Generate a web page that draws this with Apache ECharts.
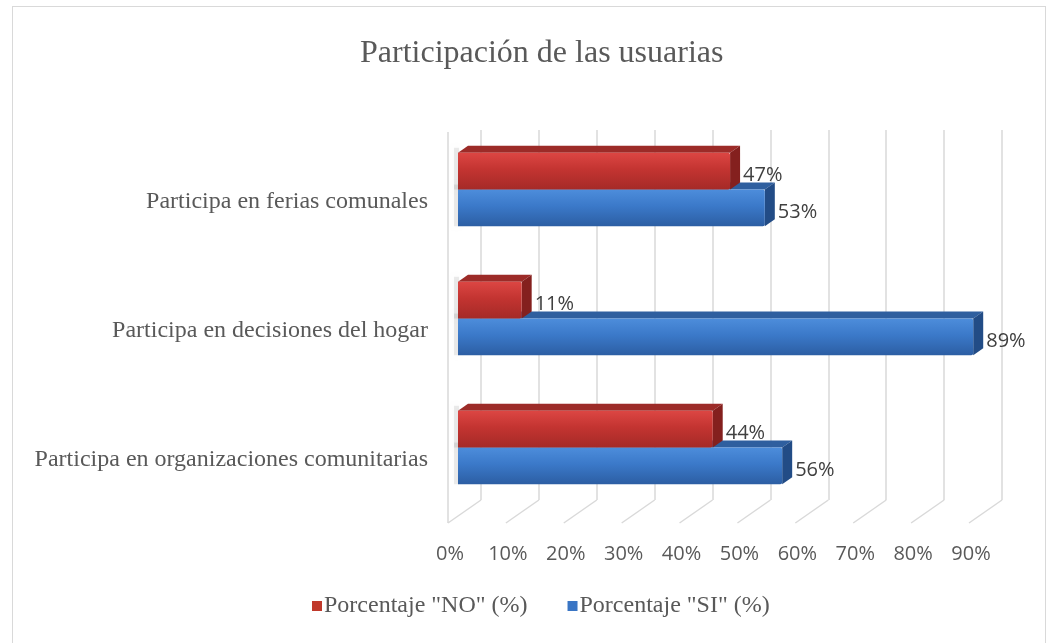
<!DOCTYPE html>
<html>
<head>
<meta charset="utf-8">
<script src="https://cdn.jsdelivr.net/npm/echarts@6/dist/echarts.min.js"></script>
<style>
html,body{margin:0;padding:0;background:#fff;}
#frame{position:absolute;left:12px;top:6px;width:1034px;height:640px;border:1px solid #d9d9d9;box-sizing:border-box;}
#chart{position:absolute;left:0;top:0;width:1051px;height:643px;}
</style>
</head>
<body>
<div id="frame"></div>
<div id="chart"></div>
<script>
var categories = ['Participa en organizaciones comunitarias', 'Participa en decisiones del hogar', 'Participa en ferias comunales'];
var noValues = [44, 11, 47];
var siValues = [56, 89, 53];
var tickValues = [0, 10, 20, 30, 40, 50, 60, 70, 80, 90];
var seriesNames = ['Porcentaje "NO" (%)', 'Porcentaje "SI" (%)'];

var DX = 10, DY = 7, BACK_DX = 33, BACK_DY = 23;

var palettes = {
  no: {front: ['#dc4643', '#c33431', '#a52a27'], top: '#9c2b28', side: '#84201e', legend: '#c0392b'},
  si: {front: ['#4d8ddb', '#3b79c9', '#2c5ea3'], top: '#2f5f9f', side: '#224c86', legend: '#3a75c4'}
};

function makeRender(pal, upper) {
  return function (params, api) {
    var val = api.value(0), idx = api.value(1);
    var base = api.coord([0, idx]);
    var end = api.coord([val, idx]);
    var band = api.size([0, 1])[1];
    var h = band * 0.285;
    var y0 = upper ? base[1] - h : base[1];
    var y1 = y0 + h;
    var x0 = base[0], x1 = end[0];
    var grad = new echarts.graphic.LinearGradient(0, 0, 0, 1, [
      {offset: 0, color: pal.front[0]}, {offset: 0.45, color: pal.front[1]}, {offset: 1, color: pal.front[2]}
    ]);
    return {
      type: 'group',
      children: [
        {type: 'rect', shape: {x: x0 - 4, y: y0 - DY + 2, width: 5, height: h + DY - 2}, style: {fill: 'rgba(0,0,0,0.08)', shadowBlur: 4, shadowColor: 'rgba(0,0,0,0.25)'}},
        {type: 'polygon', shape: {points: [[x0, y0], [x0 + DX, y0 - DY], [x1 + DX, y0 - DY], [x1, y0]]}, style: {fill: pal.top}},
        {type: 'polygon', shape: {points: [[x1, y0], [x1 + DX, y0 - DY], [x1 + DX, y1 - DY], [x1, y1]]}, style: {fill: pal.side}},
        {type: 'rect', shape: {x: x0, y: y0, width: x1 - x0, height: h, r: [0, 2, 2, 0]}, style: {fill: grad}},
        {type: 'text', x: x1 + DX + 3, y: (y0 + y1) / 2 + 4, style: {text: val + '%', fill: '#404040', font: '20px "Open Sans"', align: 'left', verticalAlign: 'middle'}}
      ]
    };
  };
}

var chart = echarts.init(document.getElementById('chart'));
chart.setOption({
  animation: false,
  title: {text: 'Participación de las usuarias', left: 355, top: 33, textStyle: {fontFamily: 'Liberation Serif', fontSize: 32, fontWeight: 'normal', color: '#595959'}},
  legend: {
    data: [{name: seriesNames[0], icon: 'rect', itemStyle: {color: palettes.no.legend}}, {name: seriesNames[1], icon: 'rect', itemStyle: {color: palettes.si.legend}}],
    bottom: 20, left: 307, itemWidth: 10, itemHeight: 10, itemGap: 40, selectedMode: false,
    textStyle: {fontFamily: 'Liberation Serif', fontSize: 24, color: '#595959', padding: [0, 0, 0, -3]}
  },
  grid: [
    {left: 458, right: 72, top: 125, bottom: 131},
    {left: 481, right: 49, top: 130, bottom: 143}
  ],
  xAxis: [
    {gridIndex: 0, type: 'value', min: 0, max: 90, interval: 10,
     axisLine: {show: false}, axisTick: {show: false}, splitLine: {show: false},
     axisLabel: {formatter: '{value}%', margin: 32, color: '#595959', fontFamily: 'Open Sans', fontSize: 20, padding: [0, 16, 0, 0]}},
    {gridIndex: 1, type: 'value', min: 0, max: 90, interval: 10,
     axisLine: {show: false}, axisTick: {show: false}, axisLabel: {show: false},
     splitLine: {show: true, lineStyle: {color: '#d9d9d9', width: 1.5}}}
  ],
  yAxis: [
    {gridIndex: 0, type: 'category', data: categories,
     axisLine: {show: false}, axisTick: {show: false}, splitLine: {show: false},
     axisLabel: {margin: 30, color: '#595959', fontFamily: 'Liberation Serif', fontSize: 24, verticalAlign: 'top'}},
    {gridIndex: 1, type: 'value', min: 0, max: 1, show: false}
  ],
  series: [
    {name: 'floor', type: 'custom', xAxisIndex: 1, yAxisIndex: 1, silent: true, clip: false, z: 1,
     data: tickValues.map(function (v) { return [v, 0]; }),
     renderItem: function (params, api) {
       var p = api.coord([api.value(0), 0]);
       var top = api.coord([0, 1])[1];
       var kids = [{type: 'line', shape: {x1: p[0], y1: p[1], x2: p[0] - BACK_DX, y2: p[1] + BACK_DY}, style: {stroke: '#d9d9d9', lineWidth: 1.5}}];
       if (api.value(0) === 0) {
         kids.push({type: 'line', shape: {x1: p[0] - BACK_DX, y1: top + 2, x2: p[0] - BACK_DX, y2: p[1] + BACK_DY}, style: {stroke: '#d9d9d9', lineWidth: 1.5}});
       }
       return {type: 'group', children: kids};
     }},
    {name: seriesNames[1], type: 'custom', xAxisIndex: 0, yAxisIndex: 0, clip: false, z: 2,
     itemStyle: {color: palettes.si.legend}, encode: {x: 0, y: 1},
     data: siValues.map(function (v, i) { return [v, i]; }),
     renderItem: makeRender(palettes.si, false)},
    {name: seriesNames[0], type: 'custom', xAxisIndex: 0, yAxisIndex: 0, clip: false, z: 3,
     itemStyle: {color: palettes.no.legend}, encode: {x: 0, y: 1},
     data: noValues.map(function (v, i) { return [v, i]; }),
     renderItem: makeRender(palettes.no, true)}
  ]
});
</script>
</body>
</html>
